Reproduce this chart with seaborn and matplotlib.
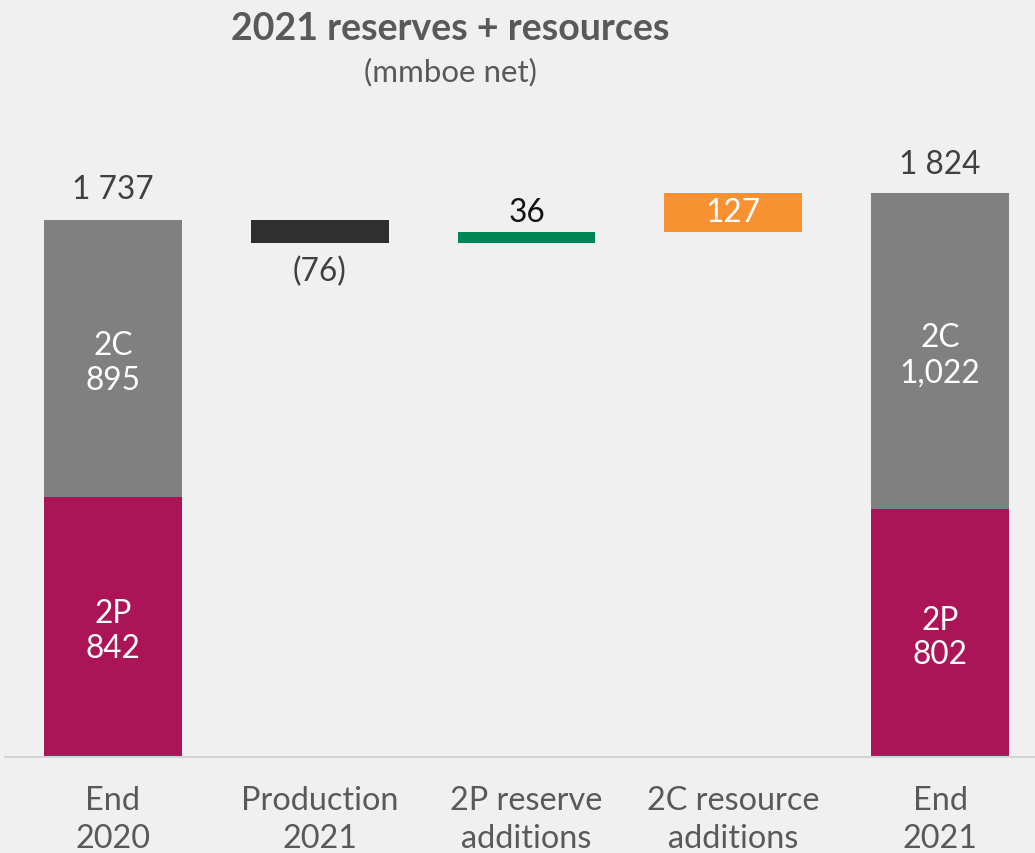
import matplotlib
matplotlib.use("Agg")
import matplotlib.pyplot as plt
import seaborn as sns
import pandas as pd

# Waterfall data (mmboe net)
steps = ["End\n2020", "Production\n2021", "2P reserve\nadditions", "2C resource\nadditions", "End\n2021"]
start_2p = 842
start_2c = 895
production = -76
reserve_additions = 36
resource_additions = 127
end_2p = 802
end_2c = 1022
start_total = 1737
end_total = 1824

BG = "#f0f0f0"
GREY = "#808080"
MAGENTA = "#ab1456"
DARK = "#2f2f2f"
GREEN = "#008556"
ORANGE = "#f79131"
TEXT = "#595959"
LABEL = "#404040"

sns.set_theme(style="white")
plt.rcParams["font.family"] = ["Lato", "DejaVu Sans"]

fig = plt.figure(figsize=(10.35, 8.54), dpi=100, facecolor=BG)
W, H = 1035, 854
base_px = 758
ax = fig.add_axes([5 / W, (H - base_px) / H, (W - 5) / W, base_px / H])
ax.set_facecolor(BG)

px_per_unit = 0.3093
bar_w = 0.667

# Totals (2P + 2C) drawn first, 2P layered on top
totals = pd.DataFrame({"step": steps,
                       "value": [start_2p + start_2c, None, None, None, end_2p + end_2c]})
sns.barplot(data=totals, x="step", y="value", order=steps, color=GREY,
            width=bar_w, saturation=1, ax=ax, errorbar=None, linewidth=0)
lower = pd.DataFrame({"step": steps,
                      "value": [start_2p, None, None, None, end_2p]})
sns.barplot(data=lower, x="step", y="value", order=steps, color=MAGENTA,
            width=bar_w, saturation=1, ax=ax, errorbar=None, linewidth=0)

# Floating movement bars
level1 = start_total + production
level2 = level1 + reserve_additions
level3 = level2 + resource_additions
ax.bar(1, -production, bottom=level1, width=bar_w, color=DARK, linewidth=0)
ax.bar(2, reserve_additions, bottom=level1, width=bar_w, color=GREEN, linewidth=0)
ax.bar(3, resource_additions, bottom=level2, width=bar_w, color=ORANGE, linewidth=0)

ax.set_ylim(0, base_px / px_per_unit)
ax.set_xlim(-0.522, 4.459)

fs = 22.8

def fmt_space(v):
    return f"{v:,}".replace(",", " ")

# Segment labels inside the stacked columns
seg_kw = dict(ha="center", va="center", color="white", fontsize=fs, linespacing=1.2,
              xytext=(0, -4), textcoords="offset pixels")
ax.annotate(f"2P\n{start_2p}", (0, start_2p / 2), **seg_kw)
ax.annotate(f"2C\n{start_2c}", (0, start_2p + start_2c / 2), **seg_kw)
ax.annotate(f"2P\n{end_2p}", (4, end_2p / 2), **seg_kw)
ax.annotate(f"2C\n{end_2c:,}", (4, end_2p + end_2c / 2), **seg_kw)

# Value labels
ax.annotate(fmt_space(start_total), (0, start_total), xytext=(0, 16), textcoords="offset pixels",
            ha="center", va="bottom", color=LABEL, fontsize=fs)
ax.annotate(fmt_space(end_total), (4, end_total), xytext=(0, 14), textcoords="offset pixels",
            ha="center", va="bottom", color=LABEL, fontsize=fs)
ax.annotate(f"({-production})", (1, level1), xytext=(0, -12), textcoords="offset pixels",
            ha="center", va="top", color=LABEL, fontsize=fs)
ax.annotate(f"{reserve_additions}", (2, level2), xytext=(0, 5), textcoords="offset pixels",
            ha="center", va="bottom", color="#111111", fontsize=fs)
ax.text(3, level2 + resource_additions / 2, f"{resource_additions}", ha="center", va="center",
        color="white", fontsize=fs)

# Axes styling
for side in ["left", "right", "top"]:
    ax.spines[side].set_visible(False)
ax.spines["bottom"].set_color("#d4d4d4")
ax.spines["bottom"].set_linewidth(1.5)
ax.set_xlabel("")
ax.set_ylabel("")
ax.set_yticks([])
ax.set_xticks(range(len(steps)))
ax.set_xticklabels(steps, fontsize=23.3, color=TEXT, linespacing=1.33)
ax.tick_params(axis="x", length=0, pad=20)

# Title block
fig.text(450 / W, 1 - 29 / H, "2021 reserves + resources", ha="center", va="center",
         fontsize=27, fontweight="bold", color=TEXT)
fig.text(450 / W, 1 - 72 / H, "(mmboe net)", ha="center", va="center",
         fontsize=22.5, color=TEXT)

fig.savefig("out.png", dpi=100, facecolor=BG)
